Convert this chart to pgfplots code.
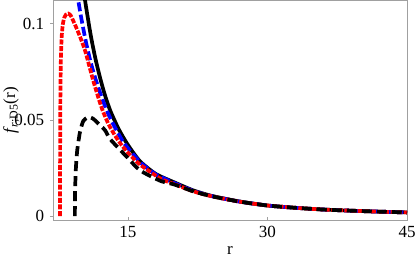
\documentclass[border=0pt]{standalone}
\usepackage{fontspec}
\setmainfont{Liberation Serif}
\usepackage{pgfplots}
\pgfplotsset{compat=1.18}
\definecolor{framegray}{RGB}{160,160,160}
\begin{document}
\fontsize{17bp}{20bp}\selectfont
\begin{tikzpicture}
\path[use as bounding box] (-53bp,-39bp) rectangle (362bp,220.5bp);
\begin{axis}[
  scale only axis, width=354bp, height=220bp,
  at={(0,0)}, anchor=south west,
  xmin=6.95, xmax=45, ymin=-0.0023, ymax=0.1121,
  axis line style={draw=framegray, line width=0.7bp},
  tick pos=left, xtick align=inside, ytick align=outside,
  major tick length=3bp, tick style={framegray, line width=0.6bp},
  xtick={15,30,45}, xticklabels={15,30,45},
  ytick={0,0.05,0.1}, yticklabels={0,0.05,0.1},
  scaled y ticks=false,
  tick label style={font=\fontsize{17bp}{20bp}\selectfont},
  xlabel={r}, ylabel={\textit{f}\textsubscript{\textit{r};D5}(r)},
  label style={font=\fontsize{17bp}{20bp}\selectfont},
  xlabel style={at={(axis description cs:0.5,-0.155)}, anchor=base},
  ylabel style={at={(axis description cs:-0.107,0.5)}, anchor=base},
  clip=true,
  every axis plot/.append style={line width=3.7bp, smooth, tension=0.4},
]
% black solid
\addplot[black] coordinates {
(9.9,0.130) (10.4,0.112) (11.0,0.0942) (11.5,0.0821) (12.0,0.0721) (12.5,0.0634)
(13.1,0.0549) (14.0,0.0453) (15.0,0.0370) (16.3,0.0285) (18.0,0.0219) (20,0.0175)
(22,0.0134) (24,0.0105) (27,0.0076) (30,0.0055) (33,0.0043) (36,0.0034)
(39,0.0028) (42,0.0023) (45,0.0019)};
% blue dashed
\addplot[blue, dash pattern=on 9bp off 3.5bp] coordinates {
(9.3,0.124) (9.67,0.112) (10.0,0.1027) (10.5,0.0903) (11.0,0.0800) (11.5,0.0716)
(12.0,0.0643) (12.73,0.0549) (13.5,0.0471) (14.5,0.0385) (15.5,0.0325) (16.5,0.0272)
(18,0.0217) (20,0.0172) (22,0.0132) (24,0.0104) (27,0.0075) (30,0.0055) (33,0.0043)
(36,0.0034) (39,0.0028) (42,0.0023) (45,0.0019)};
% red short dashes
\addplot[red, dash pattern=on 5bp off 1.6bp] coordinates {
(7.70,0) (7.72,0.04) (7.75,0.065) (7.80,0.082) (7.88,0.093) (8.0,0.0995)
(8.15,0.1030) (8.35,0.1048) (8.6,0.1053) (8.85,0.1043) (9.13,0.1015) (9.67,0.0955)
(10.4,0.0860) (11.3,0.0700) (12.2,0.0560) (13.0,0.0470) (14,0.0390) (15,0.0330)
(16.3,0.0268) (18.5,0.0195) (20,0.0166) (22,0.0129) (24,0.0103) (27,0.0075)
(30,0.0055) (33,0.0043) (36,0.0034) (39,0.0028) (42,0.0023) (45,0.0019)};
% black dashed
\addplot[black, dash pattern=on 10bp off 5bp] coordinates {
(9.30,0) (9.31,0.008) (9.33,0.014) (9.40,0.024) (9.55,0.034) (9.85,0.0437)
(10.2,0.0494) (10.6,0.0511) (10.93,0.0514) (11.3,0.0505) (11.65,0.0489)
(12.55,0.0446) (13.1,0.0400) (14.9,0.0307) (16.3,0.0238) (18.5,0.0183)
(20,0.0164) (22,0.0129) (24,0.0103) (27,0.0075) (30,0.0055) (33,0.0043)
(36,0.0034) (39,0.0028) (42,0.0023) (45,0.0019)};
\end{axis}
\end{tikzpicture}
\end{document}
